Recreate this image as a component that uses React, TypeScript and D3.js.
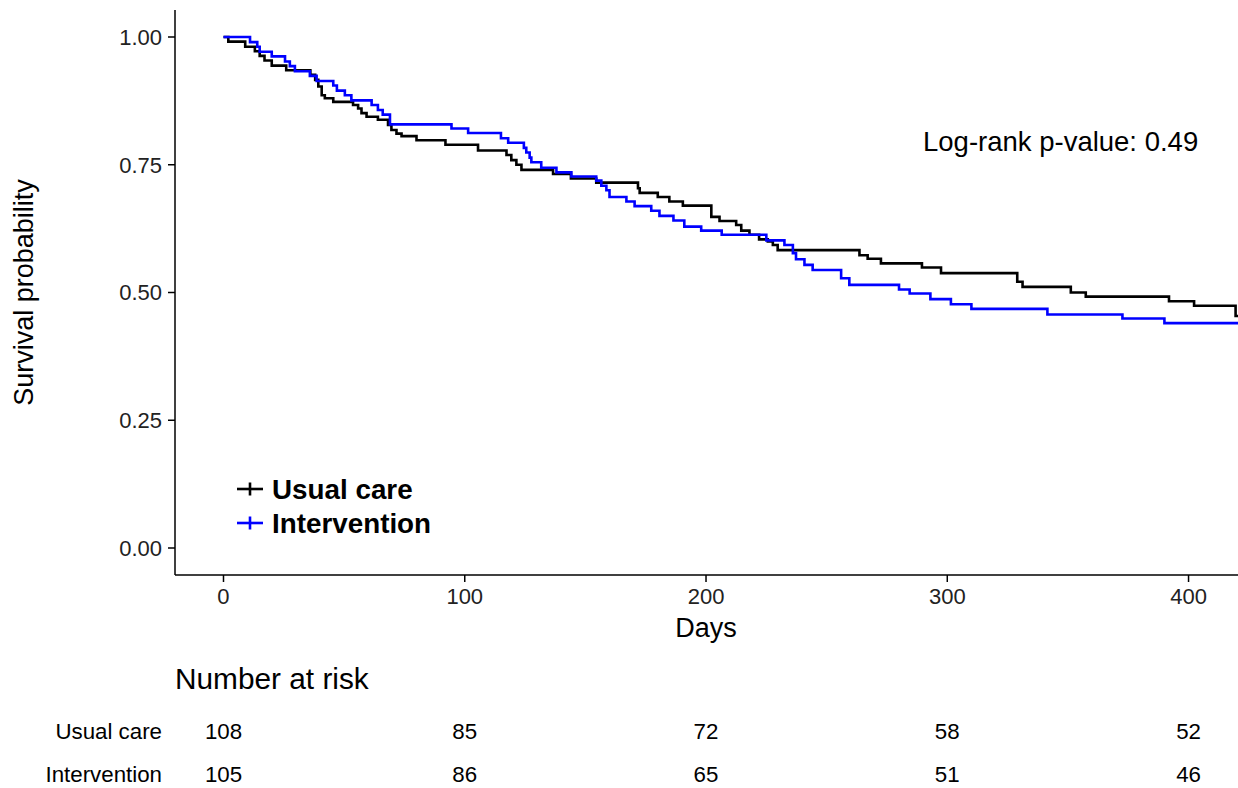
import * as d3 from 'd3';

// Kaplan-Meier steps: [day, survival probability]
const usualTimes = [0, 2, 9, 13, 15, 17, 20, 26, 36, 38, 39.3, 40.7, 42, 45.5, 53.7, 55.8, 57.2, 59.3, 64, 68.2, 69.6, 71.7, 73.8, 80, 92, 105.5, 117.3, 119.3, 121.4, 123.5, 136.6, 144, 154.5, 171.8, 172.5, 180, 184.8, 190.4, 202.2, 205.6, 212.5, 214.6, 218, 222, 225.6, 227.7, 229.7, 263.6, 267, 272.5, 289.5, 297.4, 329, 331.2, 351.2, 357.4, 391.9, 402.3, 419.5];
const usualSurv = [1.0, 0.991, 0.981, 0.972, 0.963, 0.954, 0.944, 0.935, 0.926, 0.916, 0.903, 0.886, 0.88, 0.873, 0.867, 0.86, 0.851, 0.844, 0.838, 0.828, 0.818, 0.811, 0.806, 0.798, 0.789, 0.778, 0.769, 0.759, 0.75, 0.74, 0.732, 0.723, 0.715, 0.704, 0.695, 0.687, 0.678, 0.67, 0.648, 0.64, 0.632, 0.621, 0.613, 0.604, 0.6, 0.593, 0.583, 0.573, 0.566, 0.557, 0.549, 0.538, 0.521, 0.511, 0.5, 0.492, 0.483, 0.474, 0.454];

const interTimes = [0, 11, 14, 15, 20, 25.5, 27.5, 29.6, 35.8, 38.6, 45.5, 47, 50.3, 53, 61.4, 64, 66, 69, 94.5, 101.4, 115, 118, 124.5, 125.5, 126.9, 127.6, 131.7, 138, 144.2, 154.5, 156.6, 158.7, 160, 167, 170.4, 177.3, 180.7, 186.5, 191, 198, 206.5, 225, 232.5, 236, 237.3, 240.8, 244.2, 256, 259.4, 280, 284.4, 293, 301.5, 310, 341.5, 372.6, 390];
const interSurv = [1.0, 0.99, 0.981, 0.971, 0.962, 0.952, 0.943, 0.933, 0.924, 0.914, 0.905, 0.895, 0.886, 0.876, 0.867, 0.857, 0.848, 0.829, 0.821, 0.812, 0.802, 0.793, 0.783, 0.774, 0.764, 0.755, 0.744, 0.735, 0.727, 0.719, 0.709, 0.7, 0.687, 0.678, 0.669, 0.66, 0.65, 0.641, 0.629, 0.621, 0.613, 0.602, 0.593, 0.577, 0.565, 0.554, 0.544, 0.528, 0.515, 0.506, 0.498, 0.487, 0.477, 0.468, 0.457, 0.449, 0.44];

const groups = ['Usual care', 'Intervention'];
const colors = ['#000000', '#0000ff'];

const xTicks = [0, 100, 200, 300, 400];
const yTicks = [0, 0.25, 0.5, 0.75, 1];

const riskTimes = [0, 100, 200, 300, 400];
const usualRisk = [108, 85, 72, 58, 52];
const interRisk = [105, 86, 65, 51, 46];

const pLabel = 'Log-rank p-value: 0.49';

const W = 1238;
const H = 788;
const font = '"Liberation Sans", Arial, sans-serif';

export default function App() {
  const left = 175, right = 1238, top = 10, bottom = 575;
  const x = d3.scaleLinear().domain([-20.1, 420.5]).range([left, right]);
  const y = d3.scaleLinear().domain([0, 1]).range([548, 37]);

  const line = d3.line<[number, number]>()
    .x(d => x(d[0]))
    .y(d => y(d[1]))
    .curve(d3.curveStepAfter);

  const endDay = x.domain()[1];
  const series = [
    { times: usualTimes, surv: usualSurv },
    { times: interTimes, surv: interSurv },
  ].map(s => {
    const pts: [number, number][] = s.times.map((t, i) => [t, s.surv[i]]);
    pts.push([endDay, s.surv[s.surv.length - 1]]);
    return pts;
  });

  const risks = [usualRisk, interRisk];

  return (
    <svg width={W} height={H} style={{ position: 'absolute', left: 0, top: 0, background: '#fff' }} fontFamily={font}>
      <defs>
        <clipPath id="plotClip">
          <rect x={left} y={top} width={right - left} height={bottom - top} />
        </clipPath>
      </defs>

      {/* curves */}
      <g clipPath="url(#plotClip)">
        {series.map((pts, i) => (
          <path key={i} d={line(pts) || ''} fill="none" stroke={colors[i]} strokeWidth={2.6} />
        ))}
      </g>

      {/* axes */}
      <line x1={left} x2={right} y1={bottom} y2={bottom} stroke="#000" strokeWidth={1.5} />
      <line x1={left} x2={left} y1={top} y2={bottom} stroke="#000" strokeWidth={1.5} />
      {yTicks.map(t => (
        <g key={t}>
          <line x1={left - 7} x2={left} y1={y(t)} y2={y(t)} stroke="#000" strokeWidth={1.5} />
          <text x={162} y={y(t)} dy="0.36em" textAnchor="end" fontSize={22} fill="#222">{t.toFixed(2)}</text>
        </g>
      ))}
      {xTicks.map(t => (
        <g key={t}>
          <line x1={x(t)} x2={x(t)} y1={bottom} y2={bottom + 7} stroke="#000" strokeWidth={1.5} />
          <text x={x(t)} y={604} textAnchor="middle" fontSize={22} fill="#222">{t}</text>
        </g>
      ))}
      <text x={x(200)} y={637} textAnchor="middle" fontSize={27}>Days</text>
      <text transform={`translate(33,${(top + bottom) / 2}) rotate(-90)`} textAnchor="middle" fontSize={27}>Survival probability</text>

      <text x={923} y={151} fontSize={27.5}>{pLabel}</text>

      {/* legend */}
      {groups.map((g, i) => {
        const ly = 489 + i * 34;
        return (
          <g key={g}>
            <line x1={237} x2={263} y1={ly} y2={ly} stroke={colors[i]} strokeWidth={2.6} />
            <line x1={250} x2={250} y1={ly - 6.5} y2={ly + 6.5} stroke={colors[i]} strokeWidth={2.6} />
            <text x={272} y={ly + 10} fontSize={27.8} fontWeight="bold">{g}</text>
          </g>
        );
      })}

      {/* number at risk */}
      <text x={175} y={689} fontSize={29.8}>Number at risk</text>
      {groups.map((g, i) => {
        const ry = 739 + i * 42.5;
        return (
          <g key={g}>
            <text x={162} y={ry} textAnchor="end" fontSize={22.3}>{g}</text>
            {riskTimes.map((t, j) => (
              <text key={t} x={x(t)} y={ry} textAnchor="middle" fontSize={22.3}>{risks[i][j]}</text>
            ))}
          </g>
        );
      })}
    </svg>
  );
}
